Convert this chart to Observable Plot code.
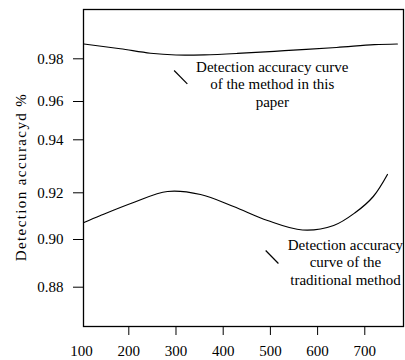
<!DOCTYPE html>
<html>
<head>
<meta charset="utf-8">
<script src="https://cdn.jsdelivr.net/npm/d3@7"></script>
<script src="https://cdn.jsdelivr.net/npm/@observablehq/plot@0.6"></script>
<style>
  html, body { margin: 0; padding: 0; background: #fff; }
  #chart svg { display: block; }
  #chart svg, #chart svg text { font-family: "Liberation Serif", "Times New Roman", serif !important; }
  #chart .ytitle text { letter-spacing: 1.4px; }
</style>
</head>
<body>
<div id="chart"></div>
<script>
// ---- data ----
const xLabels = [100, 200, 300, 400, 500, 600, 700];
const xTickMarks = [200, 300, 400, 500, 600, 700];
const yTicks = [0.88, 0.90, 0.92, 0.94, 0.96, 0.98];

const proposedX = [105, 182, 246, 300, 360, 430, 530, 640, 720, 769];
const proposedY = [0.98693, 0.98470, 0.98260, 0.98178, 0.98185, 0.98250, 0.98380, 0.98530, 0.98660, 0.98693];

const traditionalX = [105, 140, 210, 282, 352, 422, 494, 568, 634, 680, 718, 748];
const traditionalY = [0.90728, 0.91028, 0.91585, 0.92049, 0.91927, 0.91413, 0.90814, 0.90407, 0.90600, 0.91156, 0.91842, 0.92691];

const noteText = ["Detection accuracy curve\nof the method in this\npaper", "Detection accuracy\ncurve of the\ntraditional method"];
const noteX = [504, 659];
const noteY = [0.96843, 0.89078];
const leaderX1 = [296, 490];
const leaderY1 = [0.97452, 0.89539];
const leaderX2 = [324, 517];
const leaderY2 = [0.96829, 0.88994];

const yTitle = "Detection accuracyd %";

// ---- tables ----
const proposed = proposedX.map((x, i) => ({x, y: proposedY[i]}));
const traditional = traditionalX.map((x, i) => ({x, y: traditionalY[i]}));
const notes = noteText.map((t, i) => ({t, x: noteX[i], y: noteY[i]}));
const leaders = leaderX1.map((x1, i) => ({x1, y1: leaderY1[i], x2: leaderX2[i], y2: leaderY2[i]}));

const font = "Liberation Serif, Times New Roman, serif";

// the original axis has slightly uneven tick spacing: a piecewise warp reproduces it
const warp = d3.scaleLinear()
  .domain([0.8635, 0.88, 0.90, 0.92, 0.94, 0.96, 0.98, 1.0031])
  .range([0, 39.3, 87, 133.7, 186.7, 225, 267.7, 317]);

const chart = Plot.plot({
  width: 405,
  height: 360,
  marginLeft: 83,
  marginRight: 2,
  marginTop: 9,
  marginBottom: 34,
  style: {fontFamily: font, fontSize: "15px", color: "#000", background: "#fff"},
  x: {domain: [100, 782], range: [81.1, 403]},
  y: {transform: warp, domain: [0, 317]},
  marks: [
    Plot.frame({stroke: "#000", strokeWidth: 1.3}),
    Plot.axisY({
      ticks: yTicks.map(warp), tickSize: 10, tickPadding: 10,
      tickFormat: d => warp.invert(d).toFixed(2),
      fontSize: 15, fontFamily: font, label: null
    }),
    Plot.text([yTitle], {
      frameAnchor: "left", rotate: -90, dx: -62, dy: 9, fontSize: 15, fontFamily: font,
      fill: "#000", className: "ytitle", textAnchor: "middle", lineAnchor: "middle"
    }),
    Plot.axisX({ticks: xTickMarks, tickSize: 9, tickFormat: () => "", label: null}),
    Plot.axisX({ticks: xLabels, tickSize: 0, tickPadding: 19, fontSize: 15, fontFamily: font, label: null}),
    Plot.line(proposed, {x: "x", y: "y", curve: "catmull-rom", stroke: "#000", strokeWidth: 1.2}),
    Plot.line(traditional, {x: "x", y: "y", curve: "catmull-rom", stroke: "#000", strokeWidth: 1.2}),
    Plot.link(leaders, {x1: "x1", y1: "y1", x2: "x2", y2: "y2", stroke: "#000", strokeWidth: 1.2}),
    Plot.text(notes, {x: "x", y: "y", text: "t", fontSize: 15, fontFamily: font, lineHeight: 1.17, fill: "#000", textAnchor: "middle"})
  ]
});
document.getElementById("chart").appendChild(chart);
</script>
</body>
</html>
